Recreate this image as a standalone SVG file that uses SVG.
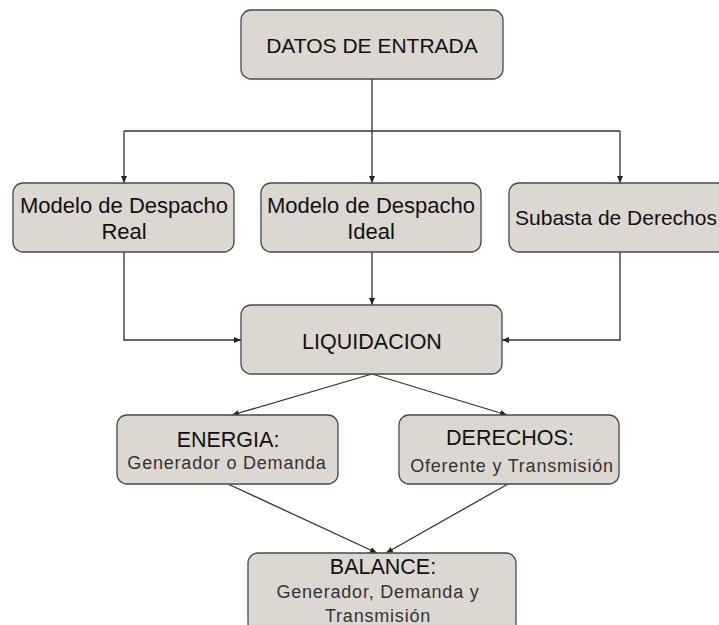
<svg xmlns="http://www.w3.org/2000/svg" width="719" height="625" viewBox="0 0 719 625">
<style>
.box{fill:#dcd7d0;stroke:#4a4a4a;stroke-width:1.3}
.t{font-family:"Liberation Sans",Arial,sans-serif;font-size:21.5px;fill:#111;text-anchor:middle}
.s{font-family:"Liberation Sans",Arial,sans-serif;font-size:18px;fill:#333;text-anchor:middle;letter-spacing:0.8px}
.c{fill:none;stroke:#333;stroke-width:1.3}
</style>
<defs>
<marker id="ar" markerWidth="8" markerHeight="8" refX="7" refY="4" orient="auto" markerUnits="userSpaceOnUse">
<path d="M0,1 L7,4 L0,7 Z" fill="#222"/>
</marker>
</defs>
<rect width="719" height="625" fill="#ffffff"/>
<g id="connectors">
<path class="c" d="M372,79 V131"/>
<path class="c" d="M124,131 H620"/>
<path class="c" d="M124,131 V183" marker-end="url(#ar)"/>
<path class="c" d="M372,131 V183" marker-end="url(#ar)"/>
<path class="c" d="M620,131 V183" marker-end="url(#ar)"/>
<path class="c" d="M124,252 V340 H241" marker-end="url(#ar)"/>
<path class="c" d="M372,252 V305" marker-end="url(#ar)"/>
<path class="c" d="M620,252 V340 H502" marker-end="url(#ar)"/>
<path class="c" d="M372,374 L232,415" marker-end="url(#ar)"/>
<path class="c" d="M372,374 L507,415" marker-end="url(#ar)"/>
<path class="c" d="M228,484 L377,553" marker-end="url(#ar)"/>
<path class="c" d="M508,484 L386,553" marker-end="url(#ar)"/>
</g>
<g id="datos">
<rect class="box" x="241" y="10" width="262" height="69" rx="10"/>
<text class="t" x="372" y="53" style="font-size:21px">DATOS DE ENTRADA</text>
</g>
<g id="real">
<rect class="box" x="13" y="183" width="221" height="69" rx="10"/>
<text class="t" x="124" y="213" style="font-size:22px">Modelo de Despacho</text>
<text class="t" x="124" y="239" style="font-size:22px">Real</text>
</g>
<g id="ideal">
<rect class="box" x="261" y="183" width="220" height="69" rx="10"/>
<text class="t" x="371" y="213" style="font-size:22px">Modelo de Despacho</text>
<text class="t" x="371" y="239" style="font-size:22px">Ideal</text>
</g>
<g id="subasta">
<rect class="box" x="509" y="183" width="222" height="69" rx="10"/>
<text class="t" x="616" y="225" style="font-size:21px">Subasta de Derechos</text>
</g>
<g id="liquidacion">
<rect class="box" x="241" y="305" width="261" height="69" rx="10"/>
<text class="t" x="372" y="349">LIQUIDACION</text>
</g>
<g id="energia">
<rect class="box" x="117" y="415" width="221" height="69" rx="10"/>
<text class="t" x="228" y="447">ENERGIA:</text>
<text class="s" x="227" y="469">Generador o Demanda</text>
</g>
<g id="derechos">
<rect class="box" x="399" y="415" width="220" height="69" rx="10"/>
<text class="t" x="510" y="445">DERECHOS:</text>
<text class="s" x="512" y="472">Oferente y Transmisión</text>
</g>
<g id="balance">
<rect class="box" x="248" y="553" width="268" height="80" rx="10"/>
<text class="t" x="383" y="574">BALANCE:</text>
<text class="s" x="378" y="598">Generador, Demanda y</text>
<text class="s" x="378" y="622">Transmisión</text>
</g>
</svg>
